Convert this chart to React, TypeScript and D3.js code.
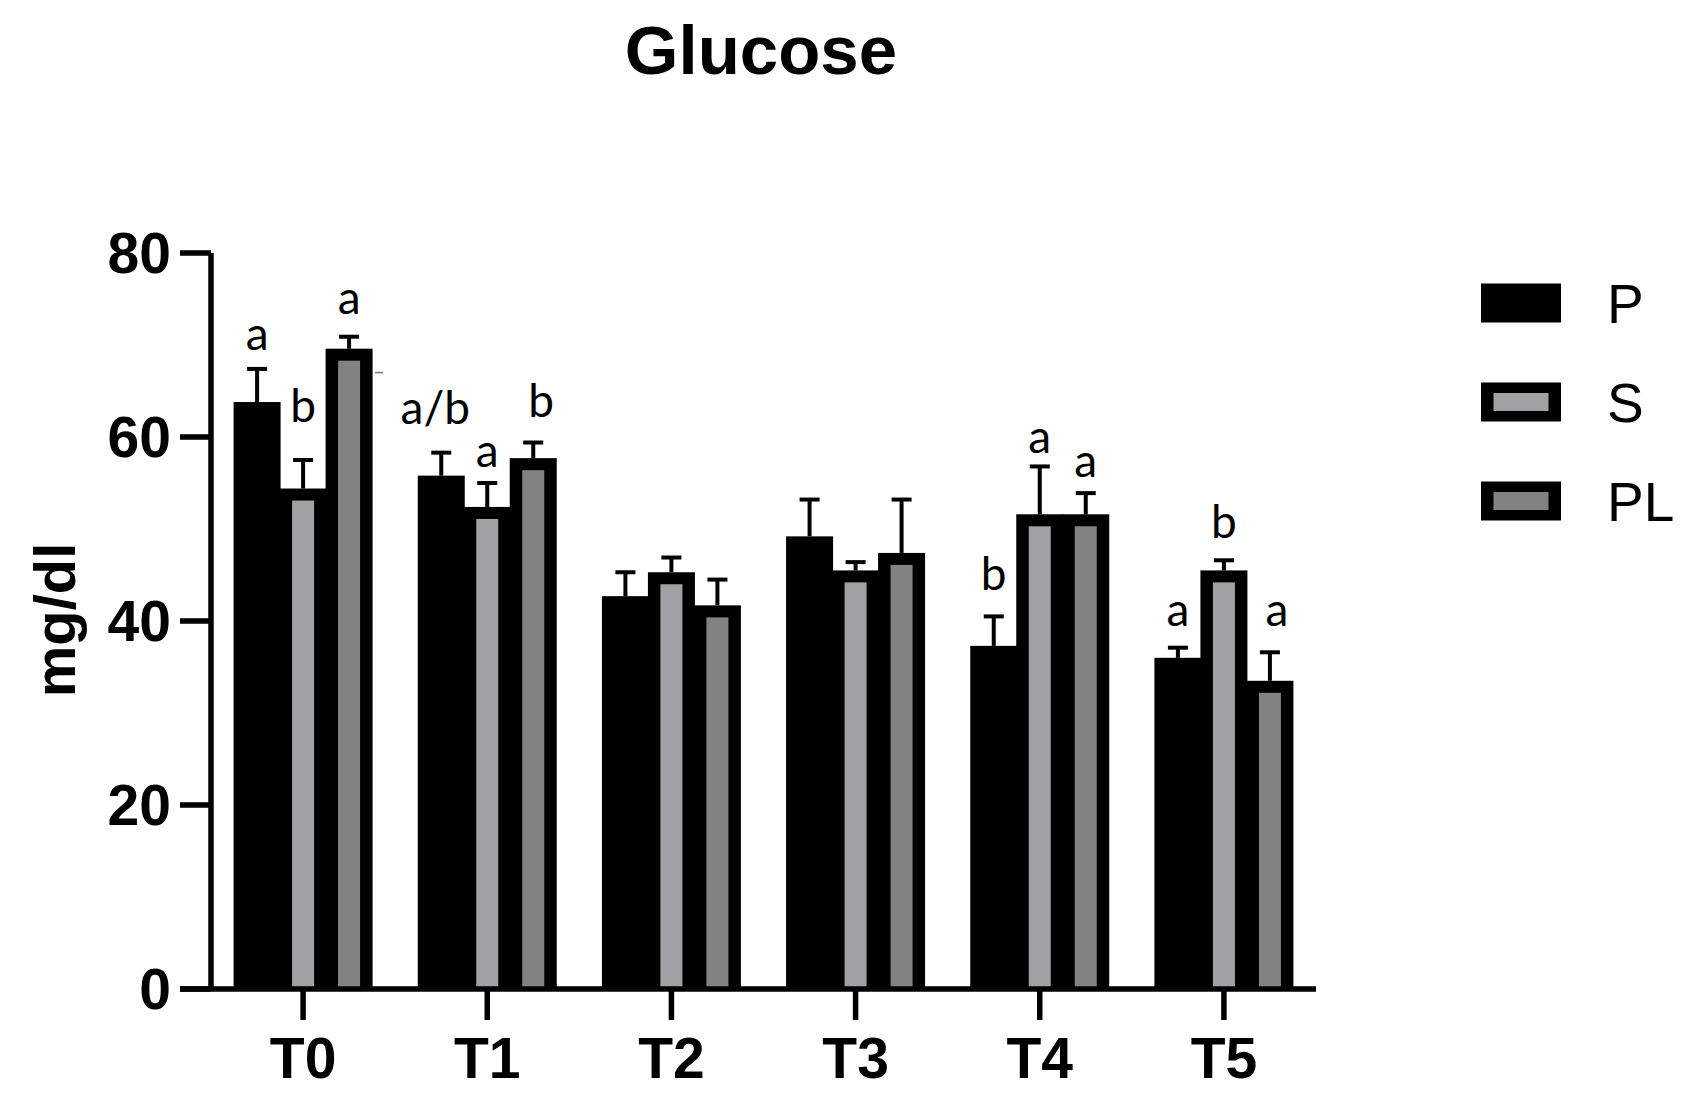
import React from "react";
import * as d3 from "d3";

const categories = ["T0", "T1", "T2", "T3", "T4", "T5"];
const seriesNames = ["P", "S", "PL"];
const valuesP = [63.8, 55.8, 42.7, 49.2, 37.3, 36.0];
const errP = [3.6, 2.5, 2.6, 4.0, 3.2, 1.1];
const valuesS = [54.4, 52.4, 45.3, 45.5, 51.6, 45.5];
const errS = [3.1, 2.6, 1.6, 0.9, 5.2, 1.1];
const valuesPL = [69.6, 57.7, 41.7, 47.4, 51.6, 33.5];
const errPL = [1.3, 1.7, 2.8, 5.8, 2.3, 3.1];
const yTicks = [0, 20, 40, 60, 80];

// significance letters: category index, series index, text, anchor value (mg/dl)
const lettersCat = [0, 0, 0, 1, 1, 1, 4, 4, 4, 5, 5, 5];
const lettersSeries = [0, 1, 2, 0, 1, 2, 0, 1, 2, 0, 1, 2];
const lettersText = ["a", "b", "a", "a/b", "a", "b", "b", "a", "a", "a", "b", "a"];
const lettersAt = [69.5, 61.6, 73.4, 61.4, 56.7, 62.2, 43.4, 58.3, 55.7, 39.5, 49.0, 39.5];
const lettersShift = [0, 0, 0, -6, 0, 8, 0, 0, 0, 0, 0, 7];

const fills = ["#000000", "#a1a1a5", "#828282"];

export default function App() {
  const W = 1691;
  const H = 1101;
  const x0 = d3.scaleBand<string>().domain(categories).range([211, 1316]).padding(0);
  const y = d3.scaleLinear().domain([0, 80]).range([989, 253]);
  const groupW = 138;
  const x1 = d3.scaleBand<string>().domain(seriesNames).range([0, groupW]).padding(0);
  const bw = x1.bandwidth();
  const border = 12;

  const vals = [valuesP, valuesS, valuesPL];
  const errs = [errP, errS, errPL];

  const barX = (ci: number, si: number) =>
    (x0(categories[ci]) as number) + x0.bandwidth() / 2 - groupW / 2 + (x1(seriesNames[si]) as number);

  const bars: React.ReactNode[] = [];
  const errBars: React.ReactNode[] = [];
  categories.forEach((c, ci) => {
    seriesNames.forEach((s, si) => {
      const v = vals[si][ci];
      const e = errs[si][ci];
      const bx = barX(ci, si);
      const top = y(v);
      const bottom = y(0);
      bars.push(
        <rect key={`b-${ci}-${si}`} x={bx - 0.5} y={top} width={bw + 1} height={bottom - top} fill="#000" />
      );
      if (si > 0) {
        bars.push(
          <rect
            key={`i-${ci}-${si}`}
            x={bx + border}
            y={top + border}
            width={bw - 2 * border}
            height={bottom - top - border}
            fill={fills[si]}
          />
        );
      }
      const cx = bx + bw / 2;
      errBars.push(
        <g key={`e-${ci}-${si}`} stroke="#000" strokeWidth={4}>
          <line x1={cx} x2={cx} y1={top} y2={y(v + e)} />
          <line x1={cx - 10} x2={cx + 10} y1={y(v + e)} y2={y(v + e)} />
        </g>
      );
    });
  });

  const letters = lettersText.map((t, i) => {
    const bx = barX(lettersCat[i], lettersSeries[i]);
    return (
      <text
        key={`l-${i}`}
        x={bx + bw / 2 + lettersShift[i]}
        y={y(lettersAt[i])}
        textAnchor="middle"
        fontFamily="Lato, 'Open Sans', sans-serif"
        fontSize={46}
        fill="#000"
      >
        {t}
      </text>
    );
  });

  // small stray dash beside T0 PL bar
  const dashX = barX(0, 2) + bw + 3;

  const legendY = [303, 402, 501];

  return (
    <svg
      width={W}
      height={H}
      style={{ position: "absolute", left: 0, top: 0, background: "#fff" }}
    >
      <rect x={0} y={0} width={W} height={H} fill="#fff" />
      <text
        x={761}
        y={74}
        textAnchor="middle"
        fontFamily="'Liberation Sans', Arial, sans-serif"
        fontWeight="bold"
        fontSize={69}
      >
        Glucose
      </text>

      {bars}
      {errBars}
      <line x1={dashX} x2={dashX + 8} y1={y(67)} y2={y(67)} stroke="#777" strokeWidth={1.5} />
      {letters}

      {/* axes */}
      <g stroke="#000" strokeWidth={5.5}>
        <line x1={211} x2={211} y1={y(80)} y2={y(0)} />
        <line x1={180} x2={x0.range()[1]} y1={y(0)} y2={y(0)} />
        {yTicks.map((t) => (
          <line key={`yt-${t}`} x1={180} x2={211} y1={y(t)} y2={y(t)} />
        ))}
        {categories.map((c) => {
          const cx = (x0(c) as number) + x0.bandwidth() / 2;
          return <line key={`xt-${c}`} x1={cx} x2={cx} y1={y(0)} y2={y(0) + 31} />;
        })}
      </g>
      {yTicks.map((t) => (
        <text
          key={`yl-${t}`}
          x={171}
          y={y(t) + 20}
          textAnchor="end"
          fontFamily="'Liberation Sans', Arial, sans-serif"
          fontWeight="bold"
          fontSize={57}
        >
          {t}
        </text>
      ))}
      {categories.map((c) => {
        const cx = (x0(c) as number) + x0.bandwidth() / 2;
        return (
          <text
            key={`xl-${c}`}
            x={cx}
            y={1078}
            textAnchor="middle"
            fontFamily="'Liberation Sans', Arial, sans-serif"
            fontWeight="bold"
            fontSize={57}
          >
            {c}
          </text>
        );
      })}
      <text
        transform="translate(75,620) rotate(-90)"
        textAnchor="middle"
        fontFamily="'Liberation Sans', Arial, sans-serif"
        fontWeight="bold"
        fontSize={58}
      >
        mg/dl
      </text>

      {/* legend */}
      {seriesNames.map((s, si) => (
        <g key={`lg-${s}`}>
          <rect x={1481} y={legendY[si] - 19.5} width={80} height={39} fill="#000" />
          {si > 0 && (
            <rect
              x={1481 + 12.5}
              y={legendY[si] - 19.5 + 10.5}
              width={80 - 25}
              height={39 - 21}
              fill={fills[si]}
            />
          )}
          <text
            x={1607}
            y={legendY[si] + 20}
            fontFamily="'Liberation Sans', Arial, sans-serif"
            fontSize={55}
          >
            {s}
          </text>
        </g>
      ))}
    </svg>
  );
}
